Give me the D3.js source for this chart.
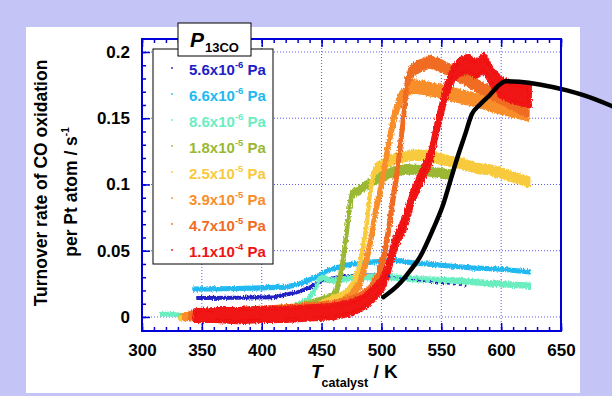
<!DOCTYPE html>
<html>
<head>
<meta charset="utf-8">
<script src="https://cdn.jsdelivr.net/npm/d3@7"></script>
<style>
  body { margin: 0; background: #c4c4f6; }
  svg { display: block; font-family: 'Liberation Sans', Arial, sans-serif; }
</style>
</head>
<body>
<div id="container"></div>
<script>
// data: [T (K), lower edge, upper edge] of each noisy band
const darkBlue = [[346,0.0135,0.015],[380,0.0138,0.0153],[410,0.0142,0.0157],[420,0.0162,0.0177],[430,0.018,0.0195],[440,0.0215,0.023],[452,0.027,0.0285],[465,0.0295,0.031],[480,0.0305,0.032],[495,0.0305,0.032],[505,0.030,0.0315]]
const darkBlueTrail = [[505,0.0308],[515,0.0295],[527,0.028],[540,0.0265],[555,0.025],[571,0.0235]]
const lightBlue = [[343,0.020,0.022],[380,0.0205,0.0225],[420,0.0215,0.0235],[432,0.024,0.026],[445,0.029,0.031],[455,0.034,0.036],[470,0.038,0.040],[485,0.040,0.042],[500,0.041,0.043],[510,0.042,0.044],[525,0.040,0.042],[550,0.038,0.040],[575,0.036,0.038],[600,0.035,0.037],[624,0.033,0.035]]
const aqua = [[316,0.001,0.003],[326,0.0012,0.003],[333,0.000,0.002],[360,0.000,0.002],[400,0.002,0.004],[425,0.006,0.008],[438,0.011,0.014],[444,0.018,0.021],[448,0.027,0.030],[452,0.028,0.031],[456,0.026,0.029],[462,0.026,0.029],[475,0.028,0.031],[500,0.029,0.032],[530,0.027,0.030],[560,0.026,0.029],[590,0.024,0.027],[624,0.022,0.025]]
const olive = [[332,-0.001,0.001],[400,0.002,0.004],[435,0.007,0.010],[450,0.011,0.014],[458,0.013,0.017],[462,0.016,0.020],[465,0.026,0.030],[468,0.041,0.045],[471,0.062,0.066],[473.5,0.082,0.086],[475.5,0.091,0.095],[480,0.093,0.097],[490,0.099,0.103],[499,0.103,0.108],[510,0.107,0.112],[521,0.109,0.114],[535,0.108,0.113],[550,0.106,0.111],[557,0.105,0.110]]
const yellow = [[332,-0.002,0.000],[345,-0.001,0.001],[400,0.001,0.003],[440,0.005,0.008],[457,0.011,0.014],[470,0.015,0.019],[476,0.022,0.026],[481,0.033,0.038],[485,0.052,0.057],[488,0.068,0.073],[490.5,0.091,0.096],[493,0.105,0.110],[497,0.110,0.116],[505,0.114,0.120],[513,0.117,0.123],[525,0.119,0.125],[535,0.119,0.125],[550,0.116,0.122],[566,0.113,0.119],[580,0.109,0.115],[591,0.108,0.114],[605,0.104,0.110],[623,0.099,0.105]]
const orange = [[335,-0.002,0.002],[380,0.001,0.005],[420,0.004,0.008],[450,0.006,0.010],[465,0.008,0.012],[475,0.013,0.018],[482,0.023,0.028],[487,0.038,0.044],[491,0.054,0.060],[495,0.077,0.083],[499,0.092,0.098],[503,0.112,0.119],[507,0.132,0.139],[511,0.149,0.156],[516,0.162,0.169],[522,0.168,0.175],[527,0.170,0.178],[535,0.169,0.177],[545,0.167,0.175],[555,0.165,0.173],[568,0.162,0.170],[582,0.159,0.167],[596,0.155,0.163],[610,0.152,0.160],[622,0.149,0.157]]
const darkOrange = [[340,-0.002,0.003],[380,0.002,0.006],[420,0.004,0.008],[460,0.007,0.011],[480,0.011,0.016],[490,0.017,0.022],[497,0.027,0.033],[502,0.042,0.048],[506,0.062,0.069],[509,0.082,0.089],[512.5,0.102,0.109],[516,0.127,0.134],[519,0.152,0.159],[521.5,0.174,0.181],[525,0.182,0.189],[532,0.186,0.193],[540,0.189,0.196],[548,0.187,0.194],[556,0.183,0.190],[566,0.178,0.185],[582,0.170,0.177],[599,0.162,0.169],[610,0.157,0.164],[622,0.152,0.159]]
const red = [[344,-0.003,0.005],[360,-0.003,0.006],[380,-0.004,0.006],[400,-0.003,0.007],[420,-0.003,0.007],[440,-0.002,0.008],[460,-0.001,0.009],[475,0.002,0.012],[485,0.006,0.016],[493,0.012,0.022],[500,0.019,0.029],[505,0.029,0.039],[510,0.047,0.057],[515,0.058,0.068],[520,0.067,0.077],[526,0.086,0.096],[531,0.096,0.106],[536,0.106,0.116],[541,0.116,0.126],[547,0.140,0.150],[554,0.166,0.176],[560,0.179,0.189],[566,0.183,0.195],[572,0.185,0.197],[579,0.181,0.193],[586,0.185,0.198],[592,0.175,0.188],[600,0.166,0.180],[610,0.162,0.176],[624,0.159,0.174]]
// black model curve
const blackCurve = [[501.6,0.015],[515,0.025],[524,0.035],[532,0.045],[543,0.066],[552,0.086],[557,0.101],[563,0.119],[570,0.138],[575.5,0.153],[582,0.160],[590,0.167],[597,0.174],[604,0.178],[615,0.1775],[632,0.1755],[655,0.171],[670,0.167],[693,0.159]]

const legendMant = ['5.6', '6.6', '8.6', '1.8', '2.5', '3.9', '4.7', '1.1']
const legendExp = ['-6', '-6', '-6', '-5', '-5', '-5', '-5', '-4']
const seriesColors = ['#2020c4', '#22b8f0', '#6aeec0', '#9bb834', '#f8ca3c', '#f88e2a', '#f06c22', '#f01212']
const xTicks = [300, 350, 400, 450, 500, 550, 600, 650]
const yTicks = [0, 0.05, 0.1, 0.15, 0.2]
const xGrid = [350, 400, 450, 500, 550, 600]

const w = 612
const h = 396
const axisColor = '#0000dd'
const font = "'Liberation Sans', Arial, sans-serif"

const svg = d3.select('#container')
              .append('svg')
              .attr('width', w)
              .attr('height', h)

// ragged edge look of the measured traces
const defs = svg.append('defs')
const rough = defs.append('filter').attr('id', 'rough')
                  .attr('x', '-5%').attr('y', '-5%').attr('width', '110%').attr('height', '110%')
rough.append('feTurbulence').attr('type', 'fractalNoise').attr('baseFrequency', '0.9 0.35')
     .attr('numOctaves', 2).attr('seed', 3).attr('result', 'n')
rough.append('feDisplacementMap').attr('in', 'SourceGraphic').attr('in2', 'n')
     .attr('scale', 4).attr('xChannelSelector', 'R').attr('yChannelSelector', 'G')

svg.append('rect').attr('width', w).attr('height', h).attr('fill', '#c4c4f6')
svg.append('rect').attr('x', 26).attr('y', 27).attr('width', 554).attr('height', 366).attr('fill', '#fff')

// Scales
const xScale = d3.scaleLinear().domain([300, 650]).range([142, 561])
const yScale = d3.scaleLinear().domain([-0.0106, 0.2098]).range([331, 39])

// Grid
svg.append('g').selectAll('line').data(xGrid).enter().append('line')
   .attr('x1', d => xScale(d)).attr('x2', d => xScale(d))
   .attr('y1', 39).attr('y2', 331)
   .attr('stroke', '#5a5ae8').attr('stroke-width', 1).attr('stroke-dasharray', '1,2')
svg.append('g').selectAll('line').data(yTicks).enter().append('line')
   .attr('x1', 142).attr('x2', 561)
   .attr('y1', d => yScale(d)).attr('y2', d => yScale(d))
   .attr('stroke', '#5a5ae8').attr('stroke-width', 1).attr('stroke-dasharray', '1,2')

// Noisy bands
const area = d3.area()
               .x(d => xScale(d[0]))
               .y0(d => yScale(d[1]))
               .y1(d => yScale(d[2]))
const bands = [
  { data: lightBlue, color: seriesColors[1], width: 2.5 },
  { data: darkBlue, color: seriesColors[0], width: 2 },
  { data: aqua, color: seriesColors[2], width: 2.5 },
  { data: olive, color: seriesColors[3], width: 4 },
  { data: yellow, color: seriesColors[4], width: 3.5 },
  { data: orange, color: seriesColors[5], width: 4 },
  { data: darkOrange, color: seriesColors[6], width: 4 },
  { data: red, color: seriesColors[7], width: 4 }
]
const traces = svg.append('g').attr('filter', 'url(#rough)')
bands.forEach(b => {
  traces.append('path')
     .datum(b.data)
     .attr('d', area)
     .attr('fill', b.color)
     .attr('stroke', b.color)
     .attr('stroke-width', b.width)
     .attr('stroke-linejoin', 'round')
})

traces.append('path')
   .datum(darkBlueTrail)
   .attr('d', d3.line().x(d => xScale(d[0])).y(d => yScale(d[1])))
   .attr('fill', 'none')
   .attr('stroke', seriesColors[0])
   .attr('stroke-width', 1.5)
   .attr('stroke-dasharray', '3,3')

// black curve (not clipped, runs off the plot)
svg.append('path')
   .datum(blackCurve)
   .attr('d', d3.line().curve(d3.curveMonotoneX).x(d => xScale(d[0])).y(d => yScale(d[1])))
   .attr('fill', 'none')
   .attr('stroke', '#000')
   .attr('stroke-width', 4.5)
   .attr('stroke-linecap', 'round')

// Axis
function styleAxis(g) {
  g.select('.domain').remove()
  g.selectAll('line').attr('stroke', axisColor).attr('stroke-width', 1.5)
  g.selectAll('text').attr('fill', '#000')
  g.attr('font-family', font).attr('font-size', 17).attr('font-weight', 'bold')
}
const xMinor = d3.range(300, 651, 10)
const yMinor = d3.range(-0.01, 0.2095, 0.01)

svg.append('g').attr('transform', 'translate(0,331)')
   .call(d3.axisBottom(xScale).tickValues(xMinor).tickSize(-4).tickFormat(''))
   .call(styleAxis)
svg.append('g').attr('transform', 'translate(0,39)')
   .call(d3.axisTop(xScale).tickValues(xMinor).tickSize(-4).tickFormat(''))
   .call(styleAxis)
svg.append('g').attr('transform', 'translate(142,0)')
   .call(d3.axisLeft(yScale).tickValues(yMinor).tickSize(-4).tickFormat(''))
   .call(styleAxis)

svg.append('g').attr('transform', 'translate(0,331)')
   .call(d3.axisBottom(xScale).tickValues(xTicks).tickSize(-8).tickPadding(13).tickFormat(d3.format('d')))
   .call(styleAxis)
svg.append('g').attr('transform', 'translate(0,39)')
   .call(d3.axisTop(xScale).tickValues(xTicks).tickSize(-8).tickFormat(''))
   .call(styleAxis)
svg.append('g').attr('transform', 'translate(142,0)')
   .call(d3.axisLeft(yScale).tickValues(yTicks).tickSize(-8).tickPadding(12).tickFormat(d => d3.format('')(d)))
   .call(styleAxis)

// frame
svg.append('rect')
   .attr('x', 142).attr('y', 39).attr('width', 419).attr('height', 292)
   .attr('fill', 'none').attr('stroke', axisColor).attr('stroke-width', 2)

// Axis titles
svg.append('text')
   .attr('transform', 'translate(47,183) rotate(-90)')
   .attr('text-anchor', 'middle').attr('font-size', 17.5).attr('font-weight', 'bold')
   .text('Turnover rate of CO oxidation')
const yt2 = svg.append('text')
   .attr('transform', 'translate(77,192) rotate(-90)')
   .attr('text-anchor', 'middle').attr('font-size', 17.5).attr('font-weight', 'bold')
yt2.append('tspan').text('per Pt atom / s')
yt2.append('tspan').attr('font-size', 10).attr('dy', -8).text('-1')

const xt = svg.append('text').attr('x', 311).attr('y', 378).attr('font-weight', 'bold')
xt.append('tspan').attr('font-size', 19).attr('font-style', 'italic').text('T')
xt.append('tspan').attr('font-size', 12.5).attr('dy', 9).attr('dx', -1).text('catalyst')
xt.append('tspan').attr('font-size', 19).attr('dy', -9).text(' / K')

// Legend
svg.append('rect')
   .attr('x', 153).attr('y', 49).attr('width', 120).attr('height', 215)
   .attr('fill', '#fff').attr('stroke', '#000').attr('stroke-width', 1)
svg.append('rect')
   .attr('x', 178).attr('y', 23).attr('width', 73).attr('height', 33)
   .attr('fill', '#fff').attr('stroke', '#000').attr('stroke-width', 1)
const lt = svg.append('text').attr('x', 190).attr('y', 47).attr('font-weight', 'bold')
lt.append('tspan').attr('font-size', 21).attr('font-style', 'italic').text('P')
lt.append('tspan').attr('font-size', 13).attr('dy', 5).attr('dx', 1).text('13CO')

legendMant.forEach((m, i) => {
  const yb = 75 + i * 26
  svg.append('circle').attr('cx', 172).attr('cy', yb - 7).attr('r', 0.9).attr('fill', seriesColors[i])
  const t = svg.append('text').attr('x', 189).attr('y', yb)
               .attr('font-size', 15).attr('font-weight', 'bold').attr('fill', seriesColors[i])
  t.append('tspan').text(m + 'x10')
  t.append('tspan').attr('font-size', 9.5).attr('dy', -7).text(legendExp[i])
  t.append('tspan').attr('dy', 7).text(' Pa')
})
</script>
</body>
</html>
